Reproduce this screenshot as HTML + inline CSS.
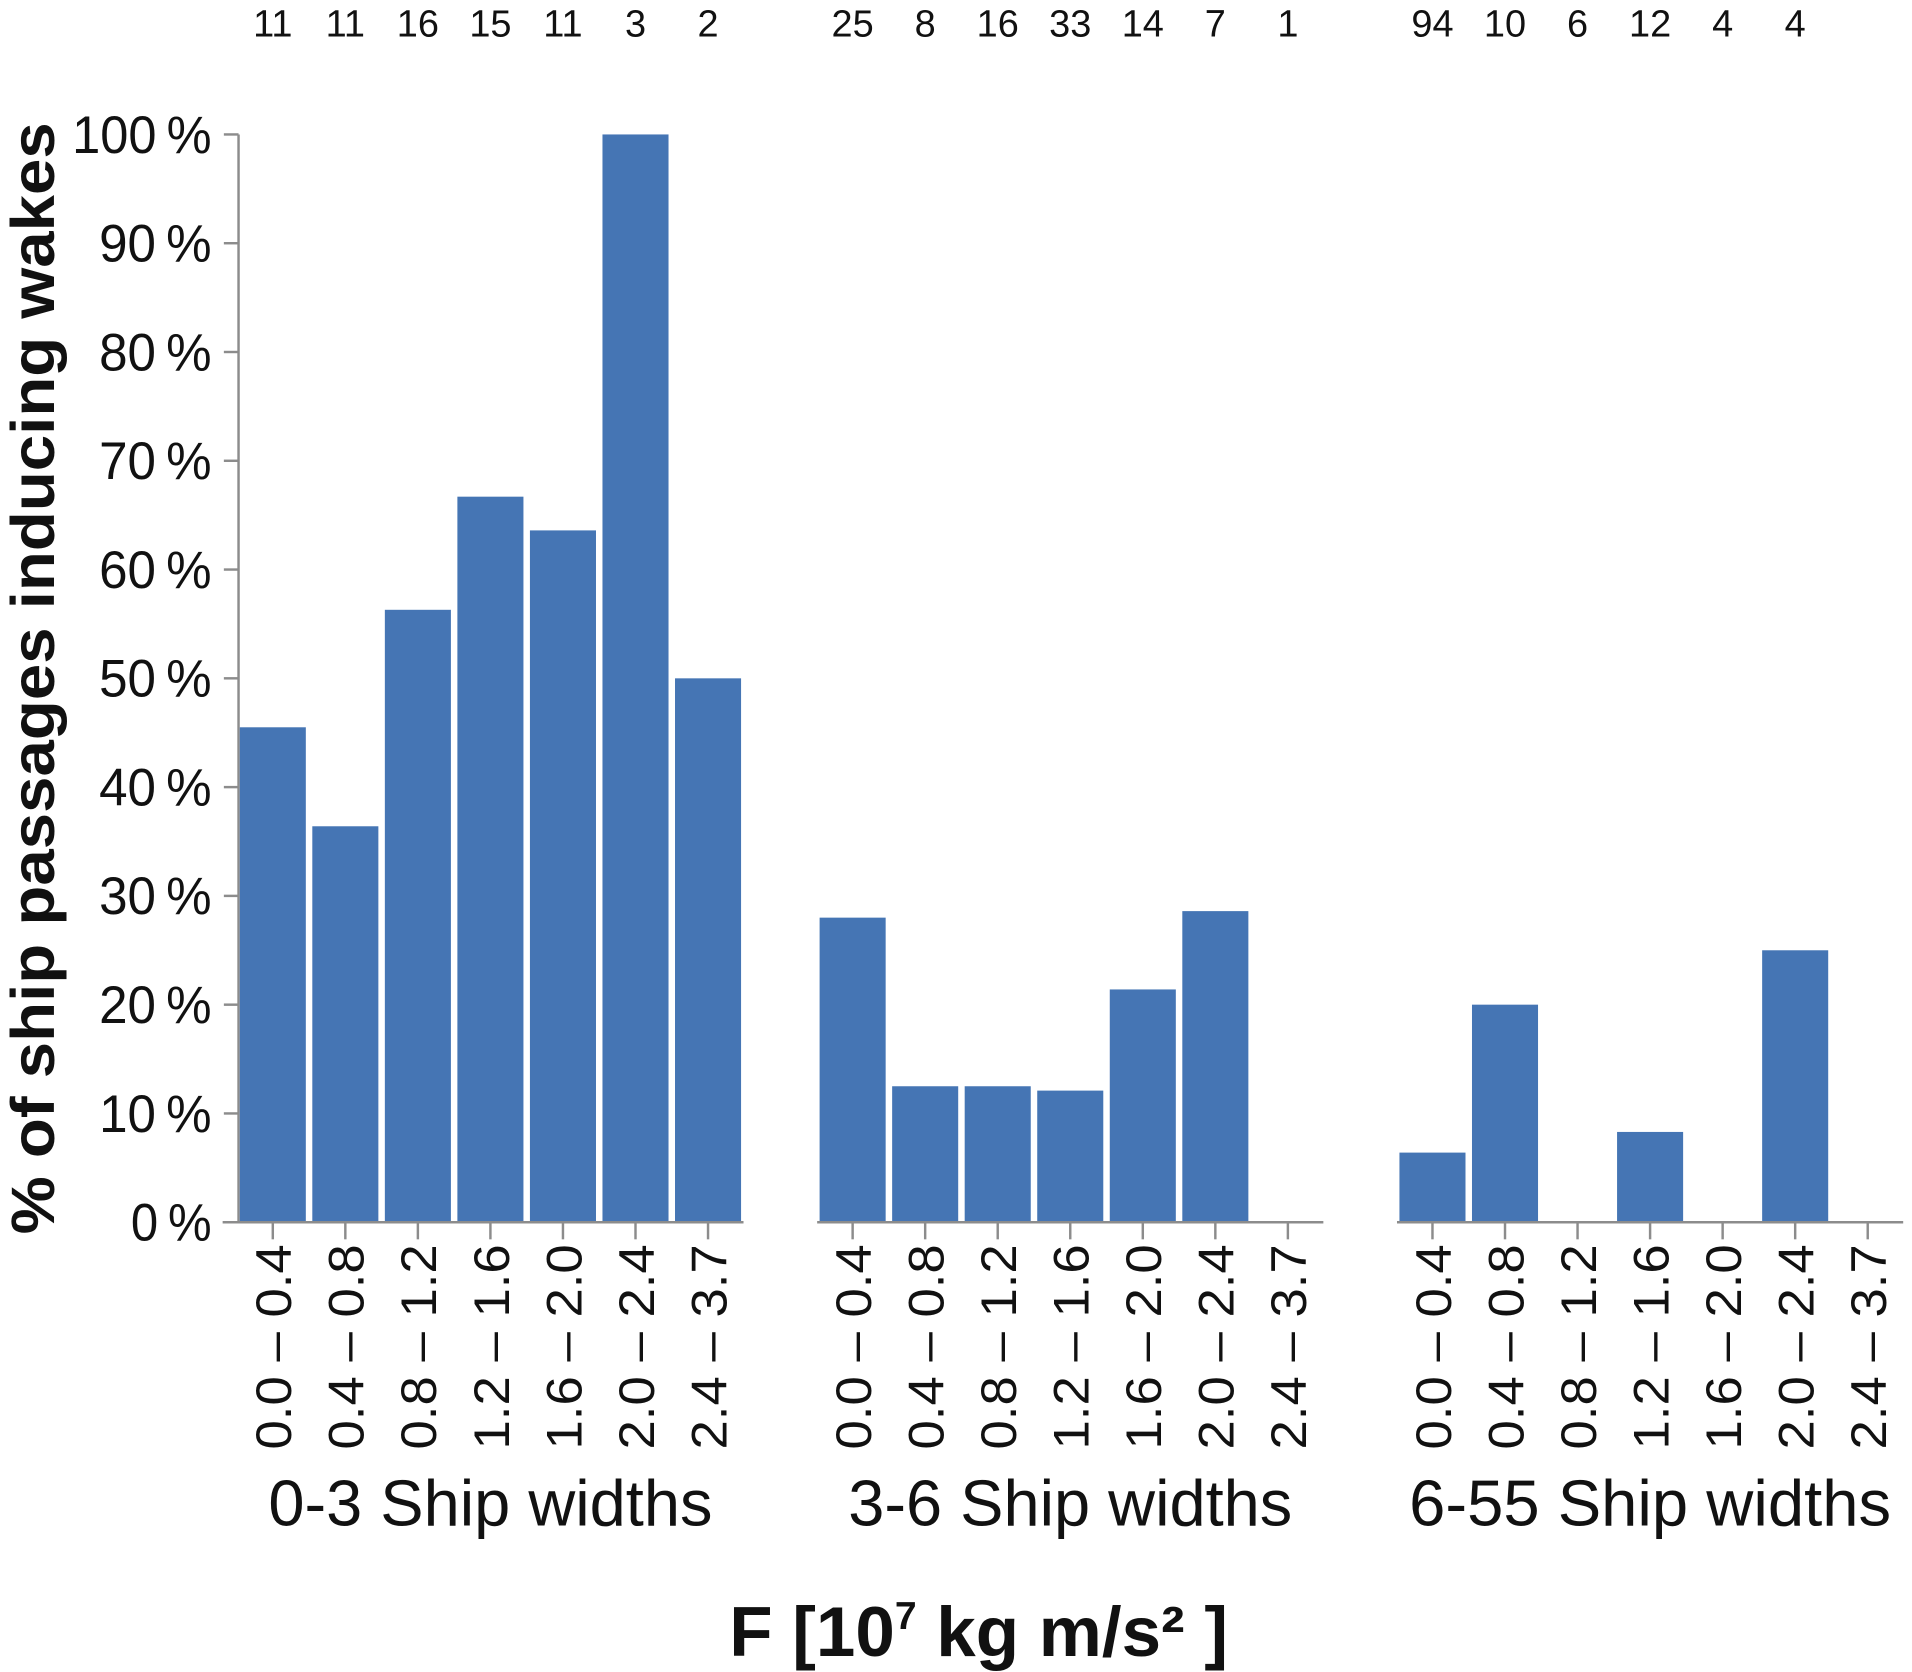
<!DOCTYPE html>
<html><head><meta charset="utf-8"><style>
html,body{margin:0;padding:0;background:#fff;}
svg{display:block;font-family:"Liberation Sans",Arial,sans-serif;}
</style></head><body>
<svg id="chart" width="1912" height="1672" viewBox="0 0 1563 1368" preserveAspectRatio="none" xmlns="http://www.w3.org/2000/svg"></svg>
<script>
const groups = ["0-3 Ship widths", "3-6 Ship widths", "6-55 Ship widths"];
const bins = ["0.0 – 0.4", "0.4 – 0.8", "0.8 – 1.2", "1.2 – 1.6", "1.6 – 2.0", "2.0 – 2.4", "2.4 – 3.7"];
const values0 = [45.5, 36.4, 56.3, 66.7, 63.6, 100, 50];
const values1 = [28, 12.5, 12.5, 12.1, 21.4, 28.6, 0];
const values2 = [6.4, 20, 0, 8.3, 0, 25, 0];
const counts0 = ["11", "11", "16", "15", "11", "3", "2"];
const counts1 = ["25", "8", "16", "33", "14", "7", "1"];
const counts2 = ["94", "10", "6", "12", "4", "4", ""];
const yTicks = [0, 10, 20, 30, 40, 50, 60, 70, 80, 90, 100];

const values = [values0, values1, values2];
const counts = [counts0, counts1, counts2];
const NS = "http://www.w3.org/2000/svg";
const svg = document.getElementById("chart");
const y0 = 1000, yTop = 110;
function yScale(v){ return y0 - (y0 - yTop) * v / 100; }
const groupStart = [223, 697, 1171];
const step = 59.3, barW = 54;
function xScale(g, i){ return groupStart[g] + i * step; }
function mk(tag, attrs){ const e = document.createElementNS(NS, tag); for (const k in attrs) e.setAttribute(k, attrs[k]); svg.appendChild(e); return e; }
const grey = "#8c8c8c";

const yAxis = mk("line", {x1:195, y1:yTop, x2:195, y2:y0, stroke:grey, "stroke-width":2});


yTicks.forEach(t => {
  const yy = yScale(t);
  const tk = mk("line", {x1:183, y1:yy, x2:195, y2:yy, stroke:grey, "stroke-width":2});
  
  
  const lb = mk("text", {x:173, y:yy + 15, "text-anchor":"end", "font-size":43, fill:"#111", textLength: (t===100?114:(t===0?66:92)), lengthAdjust:"spacingAndGlyphs"});
  lb.textContent = t + "\u2009%";
  
  
});

groups.forEach((gname, g) => {
  const ax = mk("line", {x1: xScale(g,0) - (g===0?41:29), y1:y0, x2: xScale(g,6) + 29, y2:y0, stroke:grey, "stroke-width":2});
  
  
  values[g].forEach((v, i) => {
    const cx = xScale(g, i);
    if (v > 0) {
      const r = mk("rect", {x: cx - barW/2, y: yScale(v), width: barW, height: y0 - yScale(v) - 1, fill:"#4575b4"});
      
      
    }
    const tk = mk("line", {x1:cx, y1:y0, x2:cx, y2:y0 + 14, stroke:grey, "stroke-width":2});
    
    
    const lb = mk("text", {x:0, y:0, "text-anchor":"end", "font-size":41, fill:"#111", textLength:168, lengthAdjust:"spacingAndGlyphs", transform:`translate(${cx + 15},${y0 + 18}) rotate(-90)`});
    lb.textContent = bins[i];
    
    
    const c = mk("text", {x:cx, y:30, "text-anchor":"middle", "font-size":31, fill:"#111"});
    c.textContent = counts[g][i];
    
    
  });
  const gl = mk("text", {x: xScale(g,3), y:1248, "text-anchor":"middle", "font-size":53, fill:"#111", textLength: (g===2?394:363), lengthAdjust:"spacingAndGlyphs"});
  gl.textContent = gname;
  
  
});

const yt = mk("text", {x:0, y:0, "text-anchor":"middle", "font-size":50, "font-weight":"bold", fill:"#111", textLength:910, lengthAdjust:"spacingAndGlyphs", transform:"translate(44,555) rotate(-90)"});
yt.textContent = "% of ship passages inducing wakes";



const xt = mk("text", {x:800, y:1355, "text-anchor":"middle", "font-size":58, "font-weight":"bold", fill:"#111"});
xt.innerHTML = 'F [10<tspan dy="-22" font-size="32">7</tspan><tspan dy="22"> kg m/s² ]</tspan>';


</script>
</body></html>
